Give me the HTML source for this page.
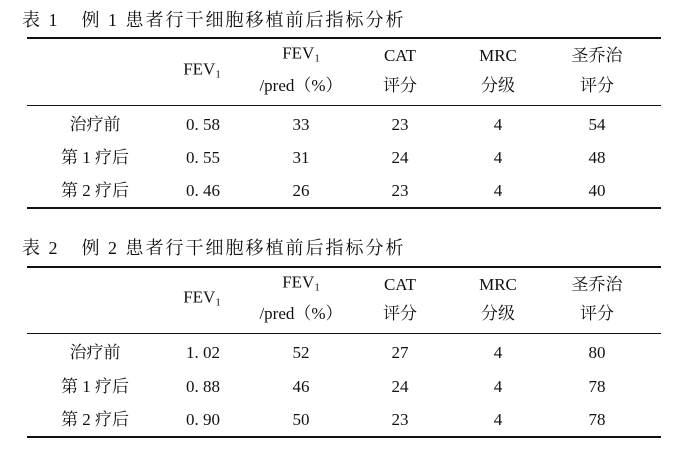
<!DOCTYPE html><html><head><meta charset="utf-8"><style>
body{margin:0;width:681px;height:457px;background:#fff;position:relative;font-family:"Liberation Serif","Noto Serif CJK SC",serif;color:#111;overflow:hidden}
.t{position:absolute;font-size:17px;line-height:18px;white-space:nowrap;transform:translate(-50%,-50%)}
.l{position:absolute;left:27px;width:634px;background:#111}
.ti{position:absolute;left:22px;font-size:18px;white-space:nowrap;letter-spacing:2px}
.ti span{margin-left:22px}
sub{font-size:11px;vertical-align:-3px}
</style></head><body>
<div class="ti" style="top:6px">表 1<span>例 1 患者行干细胞移植前后指标分析</span></div>
<div class="l" style="top:37px;height:2px"></div>
<div class="l" style="top:105px;height:1px"></div>
<div class="l" style="top:207px;height:2px"></div>
<div class="t" style="left:202px;top:72px">FEV<sub>1</sub></div>
<div class="t" style="left:301px;top:56px">FEV<sub>1</sub></div>
<div class="t" style="left:301px;top:86px">/pred（%）</div>
<div class="t" style="left:400px;top:56px">CAT</div><div class="t" style="left:400px;top:86px">评分</div>
<div class="t" style="left:498px;top:56px">MRC</div><div class="t" style="left:498px;top:86px">分级</div>
<div class="t" style="left:597px;top:56px">圣乔治</div><div class="t" style="left:597px;top:86px">评分</div>
<div class="t" style="left:95px;top:125px">治疗前</div><div class="t" style="left:203px;top:125px">0. 58</div><div class="t" style="left:301px;top:125px">33</div><div class="t" style="left:400px;top:125px">23</div><div class="t" style="left:498px;top:125px">4</div><div class="t" style="left:597px;top:125px">54</div>
<div class="t" style="left:95px;top:158px">第 1 疗后</div><div class="t" style="left:203px;top:158px">0. 55</div><div class="t" style="left:301px;top:158px">31</div><div class="t" style="left:400px;top:158px">24</div><div class="t" style="left:498px;top:158px">4</div><div class="t" style="left:597px;top:158px">48</div>
<div class="t" style="left:95px;top:191px">第 2 疗后</div><div class="t" style="left:203px;top:191px">0. 46</div><div class="t" style="left:301px;top:191px">26</div><div class="t" style="left:400px;top:191px">23</div><div class="t" style="left:498px;top:191px">4</div><div class="t" style="left:597px;top:191px">40</div>

<div class="ti" style="top:234px">表 2<span>例 2 患者行干细胞移植前后指标分析</span></div>
<div class="l" style="top:266px;height:2px"></div>
<div class="l" style="top:333px;height:1px"></div>
<div class="l" style="top:436px;height:2px"></div>
<div class="t" style="left:202px;top:300px">FEV<sub>1</sub></div>
<div class="t" style="left:301px;top:285px">FEV<sub>1</sub></div>
<div class="t" style="left:301px;top:314px">/pred（%）</div>
<div class="t" style="left:400px;top:285px">CAT</div><div class="t" style="left:400px;top:314px">评分</div>
<div class="t" style="left:498px;top:285px">MRC</div><div class="t" style="left:498px;top:314px">分级</div>
<div class="t" style="left:597px;top:285px">圣乔治</div><div class="t" style="left:597px;top:314px">评分</div>
<div class="t" style="left:95px;top:353px">治疗前</div><div class="t" style="left:203px;top:353px">1. 02</div><div class="t" style="left:301px;top:353px">52</div><div class="t" style="left:400px;top:353px">27</div><div class="t" style="left:498px;top:353px">4</div><div class="t" style="left:597px;top:353px">80</div>
<div class="t" style="left:95px;top:387px">第 1 疗后</div><div class="t" style="left:203px;top:387px">0. 88</div><div class="t" style="left:301px;top:387px">46</div><div class="t" style="left:400px;top:387px">24</div><div class="t" style="left:498px;top:387px">4</div><div class="t" style="left:597px;top:387px">78</div>
<div class="t" style="left:95px;top:420px">第 2 疗后</div><div class="t" style="left:203px;top:420px">0. 90</div><div class="t" style="left:301px;top:420px">50</div><div class="t" style="left:400px;top:420px">23</div><div class="t" style="left:498px;top:420px">4</div><div class="t" style="left:597px;top:420px">78</div>
</body></html>
